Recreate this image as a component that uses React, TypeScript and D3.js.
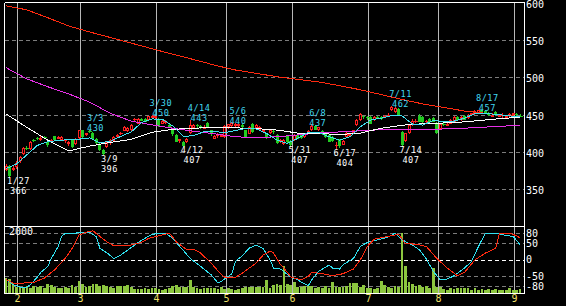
import React from "react";
import * as d3 from "d3";

const W = 566;
const H = 306;

// ---- daily OHLC (2022-01-26 .. 2022-09-02, 149 sessions) ----
const opens = [377,382,377,380,387,397,406,404,416,419,416,420,414,414,421,418,416,414,411,416,411,418,429,423,428,426,418,411,403,407,412,414,420,424,429,428,429,443,438,445,445,444,447,446,445,438,439,436,429,423,414,414,414,425,432,436,435,432,439,429,418,421,421,420,433,435,436,435,436,429,425,438,432,430,427,425,425,428,423,414,410,422,415,416,423,423,420,425,429,435,429,428,424,423,420,409,416,410,420,421,425,436,443,448,447,447,443,447,447,447,449,456,454,458,427,414,425,436,441,449,447,440,444,446,439,431,438,436,438,440,447,443,449,446,449,451,452,456,455,453,448,454,448,449,447,448,449,451,449];
const highs = [384,383,381,388,395,407,408,415,417,420,421,422,415,417,422,422,421,418,415,417,419,429,430,426,430,427,419,412,404,415,417,421,424,427,435,433,437,446,446,446,446,449,450,448,446,443,443,437,430,424,418,415,419,443,438,437,436,436,440,430,423,425,424,436,438,440,439,438,437,430,435,439,437,435,430,426,430,429,424,418,417,423,416,424,424,424,425,430,437,436,434,429,425,424,421,414,417,416,427,426,430,444,452,449,448,448,448,448,448,450,453,462,461,459,428,426,437,444,445,451,449,443,446,447,440,439,439,440,444,448,448,449,450,451,453,456,457,456,456,454,452,455,451,452,450,452,453,452,451];
const lows = [375,366,375,378,385,396,403,403,413,416,415,417,407,412,415,417,415,412,408,405,410,417,419,421,425,417,410,401,396,406,410,413,419,423,428,427,428,441,437,441,440,443,445,444,434,437,438,432,422,413,412,407,412,424,431,432,431,431,433,422,417,419,420,419,431,434,434,433,431,419,424,426,431,429,425,417,424,424,411,412,409,412,407,415,417,418,419,424,428,429,428,423,419,413,413,404,406,409,419,420,424,435,442,444,443,437,442,444,443,446,447,455,453,449,407,413,424,435,439,440,438,437,439,440,424,430,435,435,437,439,442,442,443,445,448,450,451,452,451,449,447,449,447,446,446,447,448,448,447];
const closes = [382,369,379,386,393,405,405,414,415,417,419,419,410,416,416,420,420,417,414,407,418,429,420,425,427,418,412,403,397,414,416,420,423,425,434,432,436,444,445,442,441,449,449,448,436,442,442,433,423,414,417,408,418,436,436,434,433,434,434,423,422,424,423,435,437,439,438,437,433,420,434,427,436,434,429,418,429,426,412,416,416,414,410,423,418,419,424,428,435,430,433,425,420,414,415,410,408,415,426,424,429,443,451,446,445,438,447,445,444,449,450,460,459,450,410,425,436,442,442,441,440,441,440,441,426,438,437,438,443,447,443,447,444,449,452,455,456,453,452,450,450,450,450,450,449,451,452,449,448];
const volumes = [500,470,330,200,200,200,230,170,230,200,230,170,300,270,200,170,170,200,170,270,200,400,300,200,230,300,300,230,270,230,200,170,230,230,230,270,200,130,130,130,170,130,170,170,130,100,130,170,230,270,200,200,200,430,200,170,130,170,170,170,170,130,200,130,170,130,100,130,170,200,200,200,200,200,200,430,170,270,300,270,900,300,270,370,200,200,230,230,230,170,200,170,230,170,370,200,200,200,230,330,330,330,200,270,170,170,130,170,400,270,200,170,230,200,2000,900,370,300,230,270,200,230,170,830,200,200,130,100,170,130,170,170,170,170,100,170,100,130,100,130,100,130,100,100,100,170,100,100,130];

// ---- moving averages (sampled) ----
const maIdx = [0,6,12,18,24,30,36,42,48,54,60,66,72,78,84,90,96,102,108,114,120,126,132,138,144,148];
const maLong = [596,590.5,580,569,561,553.5,546,538.5,531,524,516.5,510,505.5,501,497.5,494,489,483.5,477,470.5,464.5,459.8,455,452,449.3,447.5];
const maMid = [513,498,487.5,478,467,452,441.5,436.5,432,428,424.5,420.5,419.5,420.5,423,425.5,427,428.5,430,430,430,431,432,433.5,435,435.5];
const maWhite = [451,433,416,401.5,408,413,417,426.5,430.5,432,433,432.5,431.5,429.5,425.5,425,423.5,425.5,432,436,438,439,440.5,443,445.5,446.5];
const maShortIdx = [0,3,6,9,12,15,18,21,24,27,30,33,36,39,42,45,48,51,54,57,60,63,66,69,72,75,78,81,84,87,90,93,96,99,102,105,108,111,114,117,120,123,126,129,132,135,138,141,144,147,148];
const maShort = [378,384,396.5,409,414,415.5,416.8,417.4,419,412.5,414.5,421,427,439.5,444.4,444,435,421,422,427.5,427.5,426,429,431.5,431,425,416,411.6,418.5,426.5,426.5,420.5,416,420.5,434,443,445.5,449,448.5,437.5,436.2,442.5,440.6,441.5,445.5,451.5,451.8,450.5,449.2,447.3,447];

// ---- oscillator (sampled) ----
const oscCyanIdx = [0,2,4,6,7,9,10,12,13,15,16,17,20,22,24,26,27,29,31,33,35,37,39,42,44,46,48,50,53,56,59,61,62,65,66,68,70,72,74,76,77,79,82,84,85,87,88,90,93,94,96,97,100,102,104,107,110,112,114,117,119,121,123,125,127,129,132,134,136,138,141,143,146,148];
const oscCyan = [-58,-75,-82,-82,-75,-52,-38,-20,4,40,71,79,80,83,83,69,34,21,4,14,29,44,59,76,80,80,64,40,4,-20,-45,-70,-65,-42,-5,12,35,44,34,0,-25,-28,-52,-60,-68,-78,-60,-35,-16,-25,-28,-15,4,40,52,60,68,80,60,44,30,2,-35,-60,-58,-48,-25,-5,40,80,80,75,70,45];
const oscRedIdx = [0,2,5,8,11,14,17,19,21,23,25,27,29,31,35,39,41,44,47,49,52,54,56,59,62,63,66,68,72,74,76,77,79,80,82,84,85,87,88,91,94,97,100,102,104,106,110,113,115,118,121,124,127,130,132,135,138,141,142,145,147,148];
const oscRed = [-60,-70,-70,-68,-55,-30,4,34,74,83,87,70,54,42,42,52,64,72,80,54,30,32,20,-10,-45,-53,-53,-40,-10,14,26,20,-15,-25,-52,-58,-60,-50,-38,-42,-48,-42,-28,0,40,62,70,77,48,47,40,4,-25,-48,-38,0,20,35,78,80,72,65];

// ---- axis / labels ----
const monthStartIdx = [4,22,44,64,83,105,125,147];
const monthLabels = ["2","3","4","5","6","7","8","9"];
const priceTicks = [350,400,450,500,550,600];
const oscTicks = [80,50,0,-50,-80];

const hlIdx = [1,24,28,42,51,53,65,82,88,95,111,114,136];
const hlDate = ["1/27","3/3","3/9","3/30","4/12","4/14","5/6","5/31","6/8","6/17","7/11","7/14","8/17"];
const hlValue = [366,430,396,450,407,443,440,407,437,404,462,407,457];
const hlKind = ["low","high","low","high","low","high","high","low","high","low","high","low","high"];

const FONT = "'DejaVu Sans Mono', monospace";

export default function App() {
  const n = opens.length;
  const left = 4.5;
  const right = 524.5;
  const top = 2.5;
  const sep = 226.5;
  const bottom = 293.5;

  const x = d3.scaleBand<number>().domain(d3.range(n)).range([4.4, 4.4 + n * 3.473]).padding(0);
  const bw = x.bandwidth();
  const cx = (i: number) => (x(i) as number) + bw / 2;

  const yMain = d3.scaleLinear().domain([301, 600]).range([226, 2.8]);
  const yOsc = d3.scaleLinear().domain([-100, 100]).range([293, 226.5]);
  const yVol = d3.scaleLinear().domain([0, 2000]).range([293, 233.1]);

  const lineOf = (idx: number[], vals: number[], y: d3.ScaleLinear<number, number>) =>
    d3.line<number>().x((_, k) => cx(idx[k])).y((v) => y(v))(vals) as string;

  const gridGray = "#7c7c7c";
  const vGrid = "#b8b8b8";
  const labelFs = 8.6;
  const labelLs = 0.5;
  const charW = labelFs * 0.602 + labelLs;
  const pitch = 10;

  return (
    <svg
      width={W}
      height={H}
      style={{ position: "absolute", left: 0, top: 0, background: "#000", display: "block" }}
      fontFamily={FONT}
    >
      <rect x={0} y={0} width={W} height={H} fill="#000" />
      <defs>
        <clipPath id="mainClip">
          <rect x={left} y={top} width={right - left} height={sep - top} />
        </clipPath>
        <clipPath id="oscClip">
          <rect x={left} y={sep} width={right - left} height={bottom - sep} />
        </clipPath>
      </defs>

      {/* horizontal grid main */}
      {priceTicks.filter((t) => t < 600).map((t) => (
        <line key={"pg" + t} x1={left} x2={right} y1={Math.round(yMain(t)) + 0.5} y2={Math.round(yMain(t)) + 0.5}
          stroke={gridGray} strokeDasharray="4,3" shapeRendering="crispEdges" />
      ))}
      {/* horizontal grid osc */}
      {oscTicks.map((t) => (
        <line key={"og" + t} x1={left} x2={right} y1={Math.round(yOsc(t)) + 0.5} y2={Math.round(yOsc(t)) + 0.5}
          stroke={t === 0 ? "#ffffff" : gridGray} strokeDasharray="4,3" shapeRendering="crispEdges" />
      ))}
      {/* vertical month grid */}
      {monthStartIdx.map((i) => (
        <line key={"vg" + i} x1={Math.round(x(i) as number) - 0.5} x2={Math.round(x(i) as number) - 0.5} y1={top} y2={bottom}
          stroke={vGrid} shapeRendering="crispEdges" />
      ))}

      {/* volume */}
      <g clipPath="url(#oscClip)">
        {volumes.map((v, i) => (
          <rect key={"v" + i} x={(x(i) as number) + 0.3} width={bw - 0.7} y={yVol(v)} height={yVol(0) - yVol(v)}
            fill="#8cc63f" shapeRendering="crispEdges" />
        ))}
      </g>

      {/* candles */}
      <g clipPath="url(#mainClip)">
        {opens.map((o, i) => {
          const c = closes[i];
          const c0 = cx(i);
          const l = Math.round(c0 - 1.5);
          const up = c >= o;
          const col = up ? "#ff2020" : "#22cc22";
          const yT = yMain(Math.max(o, c));
          const yB = yMain(Math.min(o, c));
          const flat = yB - yT < 1.2;
          return (
            <g key={"c" + i} shapeRendering="crispEdges">
              <line x1={l + 1.5} x2={l + 1.5} y1={yMain(highs[i])} y2={yMain(lows[i])} stroke={col} />
              {flat ? (
                <line x1={l - 0.5} x2={l + 3.5} y1={Math.round(yT) + 0.5} y2={Math.round(yT) + 0.5} stroke={col} />
              ) : up ? (
                <rect x={l + 0.5} y={Math.round(yT) + 0.5} width={2} height={Math.max(1, Math.round(yB - yT) - 1)} fill="#000" stroke={col} />
              ) : (
                <rect x={l} y={Math.round(yT)} width={3} height={Math.max(1, Math.round(yB - yT))} fill={col} />
              )}
            </g>
          );
        })}

        {/* moving averages */}
        <path d={lineOf(maIdx, maLong, yMain)} fill="none" stroke="#ff2a10" strokeWidth={1} shapeRendering="crispEdges" />
        <path d={lineOf(maIdx, maMid, yMain)} fill="none" stroke="#e830e8" strokeWidth={1} shapeRendering="crispEdges" />
        <path d={lineOf(maIdx, maWhite, yMain)} fill="none" stroke="#ffffff" strokeWidth={1} shapeRendering="crispEdges" />
        <path d={lineOf(maShortIdx, maShort, yMain)} fill="none" stroke="#40e0f0" strokeWidth={1} shapeRendering="crispEdges" />
      </g>

      {/* oscillator lines */}
      <g clipPath="url(#oscClip)">
        <path d={lineOf(oscCyanIdx, oscCyan, yOsc)} fill="none" stroke="#30e0f0" strokeWidth={1} shapeRendering="crispEdges" />
        <path d={lineOf(oscRedIdx, oscRed, yOsc)} fill="none" stroke="#ff2a10" strokeWidth={1} shapeRendering="crispEdges" />
      </g>

      {/* high / low annotations */}
      {hlIdx.map((i, k) => {
        const maxLen = Math.max(hlDate[k].length, String(hlValue[k]).length);
        const tx = cx(i) - 2.5 + (maxLen * charW) / 2;
        const yv = yMain(hlValue[k]);
        const isHigh = hlKind[k] === "high";
        const b1 = isHigh ? yv + 1.5 - pitch : yv + 6.6;
        const fill = isHigh ? "#40d8f0" : "#ffffff";
        return (
          <g key={"hl" + k} fill={fill} fontSize={labelFs} letterSpacing={labelLs} textAnchor="middle">
            <text x={tx} y={b1}>{hlDate[k]}</text>
            <text x={tx} y={b1 + pitch}>{hlValue[k]}</text>
          </g>
        );
      })}

      {/* frame */}
      <g stroke="#ffffff" shapeRendering="crispEdges" fill="none">
        <line x1={left} x2={right} y1={top} y2={top} />
        <line x1={left} x2={left} y1={top} y2={bottom} />
        <line x1={right} x2={right} y1={top} y2={bottom} />
        <line x1={left} x2={right} y1={sep} y2={sep} />
        <line x1={left} x2={right} y1={bottom - 0.5} y2={bottom - 0.5} />
      </g>

      {/* price axis labels */}
      {priceTicks.map((t) => (
        <text key={"pl" + t} x={526} y={yMain(t) + 5} fill="#ffffff" fontSize={10}>{t}</text>
      ))}
      {oscTicks.map((t) => (
        <text key={"ol" + t} x={526} y={yOsc(t) + 3.5} fill="#ffffff" fontSize={10}>{t}</text>
      ))}
      <text x={9} y={235} fill="#ffffff" fontSize={10}>2000</text>

      {/* month labels */}
      {monthStartIdx.map((i, k) => (
        <text key={"ml" + k} x={Math.round(x(i) as number) - 0.5} y={302} fill="#f0e068" fontSize={10} textAnchor="middle">
          {monthLabels[k]}
        </text>
      ))}
    </svg>
  );
}
